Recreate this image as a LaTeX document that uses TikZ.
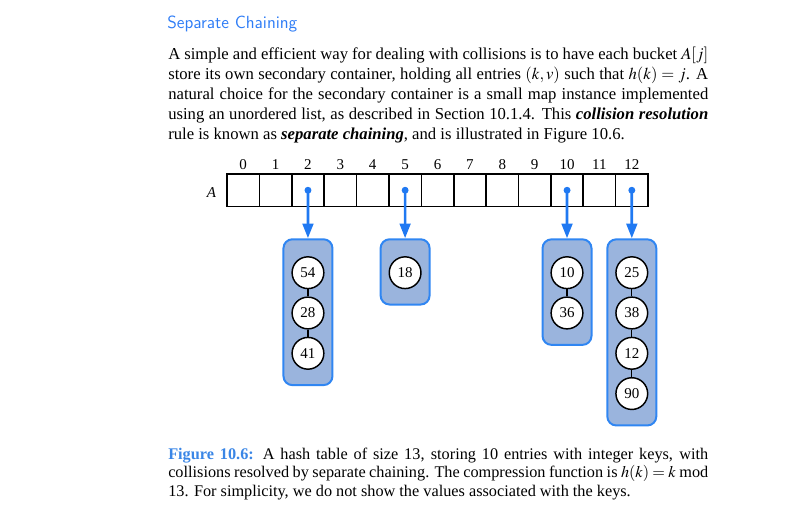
\documentclass[tikz,border=0pt]{standalone}
\usepackage{mathptmx}
\usepackage[no-math]{fontspec}
\setmainfont{Liberation Serif}
\usetikzlibrary{arrows.meta}
\definecolor{titleblue}{HTML}{2F7DF6}
\definecolor{capblue}{HTML}{3A86E6}
\definecolor{boxfill}{HTML}{9AB4DD}
\definecolor{boxline}{HTML}{3086F2}
\definecolor{ptrblue}{HTML}{2079F2}
\newcommand{\pline}[1]{\hbox to 405pt{#1}}
\begin{document}
\begin{tikzpicture}[x=0.75pt,y=-0.75pt,
  cell/.style={draw=black, line width=1.2pt, minimum width=24.29pt, minimum height=24.4pt, inner sep=0pt},
  idx/.style={anchor=base, inner sep=0pt, font=\fontsize{11.25pt}{13pt}\selectfont},
  bucket/.style={draw=boxline, fill=boxfill, line width=1.5pt, rounded corners=6.75pt, minimum width=36.75pt, inner sep=0pt},
  key/.style={circle, draw=black, fill=white, line width=1.1pt, minimum size=23.8pt, inner sep=0pt, font=\fontsize{11.25pt}{13pt}\selectfont},
  link/.style={draw=black, line width=1pt},
  ptr/.style={draw=ptrblue, line width=2pt, -{Triangle[length=11pt,width=8pt]}},
  dot/.style={fill=ptrblue}
]
\useasboundingbox (0,0) rectangle (805,516);

% title
\node[anchor=base west, inner sep=0pt, text=titleblue, font=\sffamily\fontsize{13.2pt}{15pt}\selectfont] (title) at (167,29) {Separate Chaining};

% paragraph
\node[anchor=base west, inner sep=0pt] (para) at (168,60) {\fontsize{12.5pt}{15pt}\selectfont\vtop{\baselineskip=15pt
\pline{A simple and efficient way for dealing with collisions is to have each bucket $A[j]$}
\pline{store its own secondary container, holding all entries $(k,v)$ such that $h(k)=j$. A}
\pline{natural choice for the secondary container is a small map instance implemented}
\pline{using an unordered list, as described in Section 10.1.4. This \textbf{\textit{collision resolution}}}
\pline{rule is known as \textbf{\textit{separate chaining}}, and is illustrated in Figure 10.6.\hfil}}};

% array
\node[anchor=base, inner sep=0pt, font=\fontsize{11.25pt}{13pt}\selectfont\itshape] (alabel) at (211.5,197.5) {A};
\foreach \i in {0,...,12} {
  \pgfmathsetmacro\cx{227+32.385*(\i+0.5)}
  \node[cell] (c\i) at (\cx,190.25) {};
  \node[idx] (l\i) at (\cx,170) {\i};
}

% buckets
\node[bucket, minimum height=109.4pt] (b2) at (307.96,312.2) {};
\node[bucket, minimum height=48.94pt] (b5) at (405.1,271.9) {};
\node[bucket, minimum height=79.16pt] (b10) at (567.0,292.1) {};
\node[bucket, minimum height=139.6pt] (b12) at (631.8,332.4) {};

% keys
\node[key] (k54) at (307.96,272.7) {54};
\node[key] (k28) at (307.96,313.0) {28};
\node[key] (k41) at (307.96,353.3) {41};
\node[key] (k18) at (405.1,272.7) {18};
\node[key] (k10) at (567.0,272.7) {10};
\node[key] (k36) at (567.0,313.0) {36};
\node[key] (k25) at (631.8,272.7) {25};
\node[key] (k38) at (631.8,313.0) {38};
\node[key] (k12) at (631.8,353.3) {12};
\node[key] (k90) at (631.8,393.6) {90};

\draw[link] (k54) -- (k28);
\draw[link] (k28) -- (k41);
\draw[link] (k10) -- (k36);
\draw[link] (k25) -- (k38);
\draw[link] (k38) -- (k12);
\draw[link] (k12) -- (k90);

% pointers
\foreach \j in {2,5,10,12} {
  \fill[dot] (c\j.center) circle (2.6pt);
  \draw[ptr] (c\j.center) -- (b\j.north);
}

% caption
\node[anchor=base west, inner sep=0pt] (caption) at (168,459) {\fontsize{12.2pt}{13.9pt}\selectfont\vtop{\baselineskip=13.9pt
\pline{\textcolor{capblue}{\textbf{Figure 10.6:}} A hash table of size 13, storing 10 entries with integer keys, with}
\pline{collisions resolved by separate chaining. The compression function is $h(k)=k$ mod}
\pline{13. For simplicity, we do not show the values associated with the keys.\hfil}}};
\end{tikzpicture}
\end{document}
